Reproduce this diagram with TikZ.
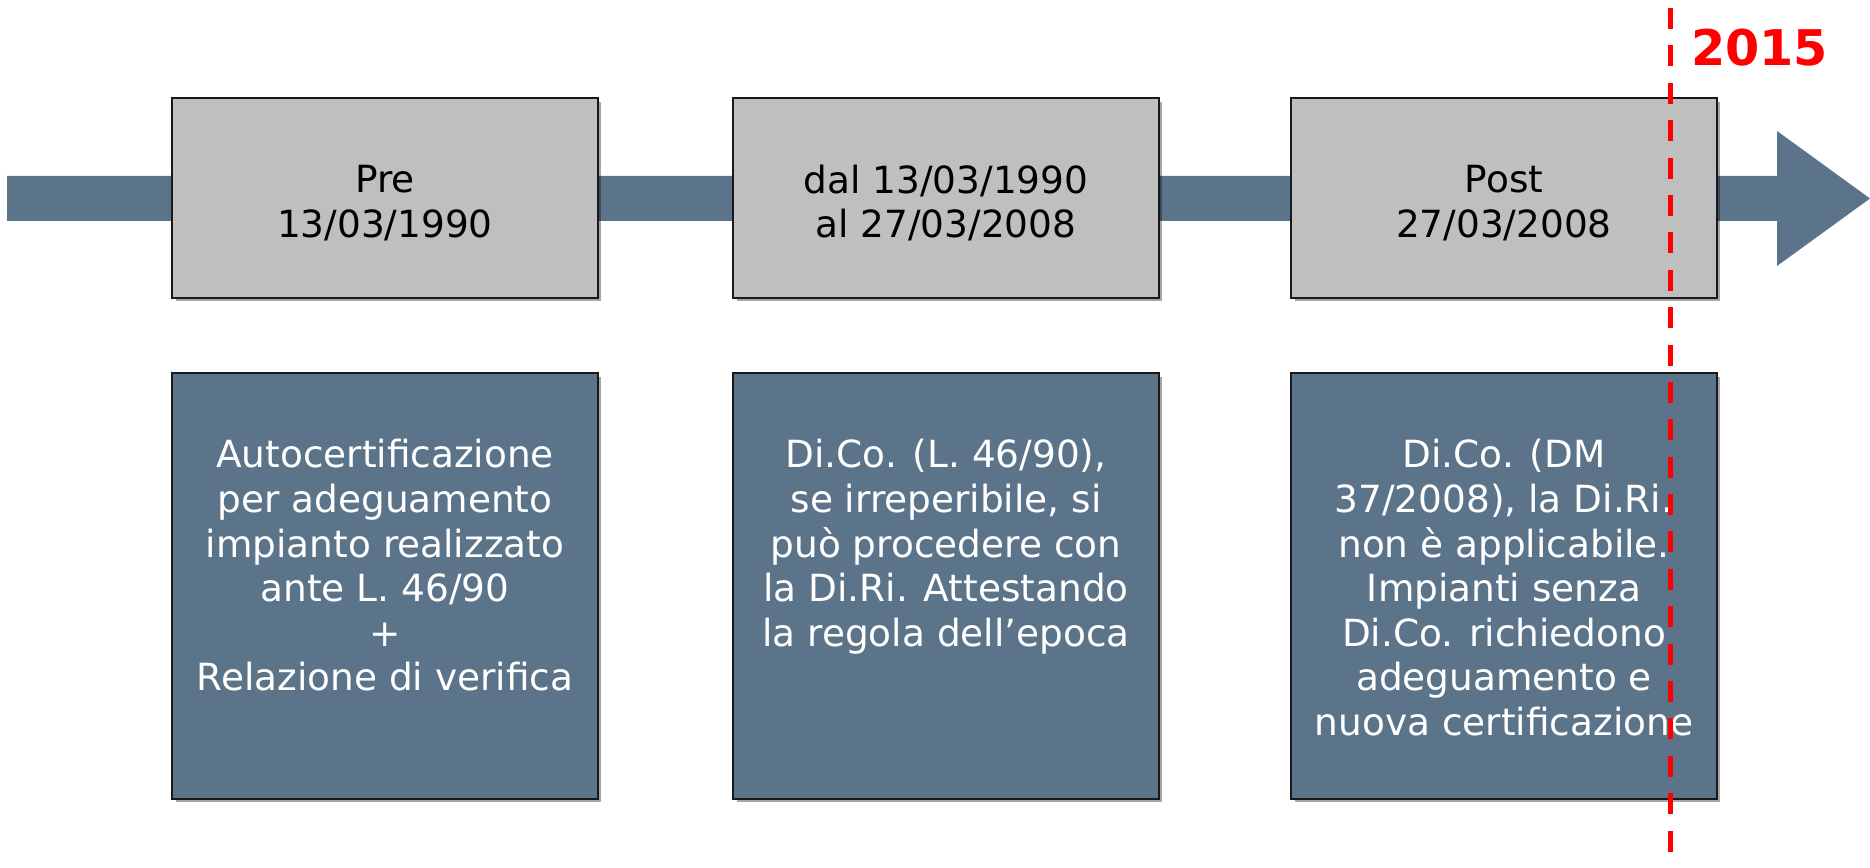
\documentclass[tikz,border=0pt]{standalone}
\usepackage{xcolor}
\usepackage{fontspec}
\setmainfont{DejaVu Sans}
\usepackage{tikz}
\usetikzlibrary{shadows, positioning, calc}

\definecolor{steel}{RGB}{91,116,137}
\definecolor{boxgray}{RGB}{191,191,191}
\definecolor{markred}{RGB}{255,0,0}

\tikzset{
	datebox/.style={draw=black!90, line width=1pt, fill=boxgray, minimum width=8.52cm, minimum height=4cm,
		inner sep=0pt,
		drop shadow={shadow xshift=0.07cm, shadow yshift=-0.07cm, fill=black, opacity=0.35}},
	notebox/.style={datebox, fill=steel, minimum height=8.52cm},
	datetext/.style={align=center, inner sep=0pt, font=\fontsize{21.3}{25.4}\selectfont},
	notetext/.style={datetext, text=white, anchor=north},
	cutline/.style={draw=markred, line width=3pt, dash pattern=on 0.42cm off 0.328cm},
	yeartext/.style={text=markred, inner sep=0pt, font=\fontsize{28}{30}\selectfont\bfseries}
}

\begin{document}
\begin{tikzpicture}[x=0.02cm, y=-0.02cm]
		
		\useasboundingbox (0,0) rectangle (1870,868);
		
		%//timeline arrow
		\fill[steel] (7,176) -- (1777,176) -- (1777,131) -- (1870,198.5) -- (1777,266) -- (1777,221) -- (7,221) -- cycle;
		
		\def\xstep{385}
		
		\node[datebox] (date1) at (\xstep,198) {};
		\node[datetext] (when1) at (\xstep,203) {Pre\\13/03/1990};
		\node[notebox] (note1) at (\xstep,586) {};
		\node[notetext] (text1) at (\xstep,439) {Autocertificazione\\per adeguamento\\impianto realizzato\\ante L. 46/90\\+\\Relazione di verifica};
		
		\def\xstep{946}
		
		\node[datebox] (date2) at (\xstep,198) {};
		\node[datetext] (when2) at (\xstep,203) {dal 13/03/1990\\al 27/03/2008};
		\node[notebox] (note2) at (\xstep,586) {};
		\node[notetext] (text2) at (\xstep,439) {Di.Co. (L. 46/90),\\se irreperibile, si\\può procedere con\\la Di.Ri. Attestando\\la regola dell’epoca};
		
		\def\xstep{1504}
		
		\node[datebox] (date3) at (\xstep,198) {};
		\node[datetext] (when3) at (\xstep,203) {Post\\27/03/2008};
		\node[notebox] (note3) at (\xstep,586) {};
		\node[notetext] (text3) at (\xstep,439) {Di.Co. (DM\\37/2008), la Di.Ri.\\non è applicabile.\\Impianti senza\\Di.Co. richiedono\\adeguamento e\\nuova certificazione};
		
		%//2015 marker
		\coordinate (cuttop) at (1670.5,8);
		\coordinate (cutbot) at (1670.5,868);
		\draw[cutline] (cuttop) -- (cutbot);
		\node[yeartext] (year) at (1759.5,47.5) {2015};
		
\end{tikzpicture}
\end{document}
